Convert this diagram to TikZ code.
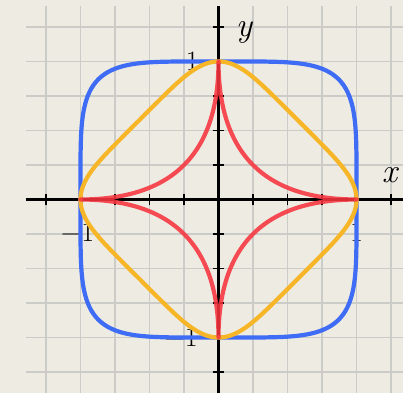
\documentclass[tikz,border=0pt]{standalone}
\usepackage{fontspec}
\definecolor{bg}{RGB}{238,235,227}
\definecolor{gridc}{RGB}{203,203,200}
\definecolor{cblue}{RGB}{62,108,244}
\definecolor{corange}{RGB}{246,182,40}
\definecolor{cred}{RGB}{246,52,62}
\tikzset{
  gridline/.style={draw=gridc, line width=1.3pt},
  axisline/.style={draw=black, line width=2.8pt},
  tickmark/.style={draw=black, line width=1.2pt},
  curve/.style={line width=4.2pt, line join=round},
  numlabel/.style={font=\fontsize{28}{28}\selectfont, inner sep=0pt},
  varlabel/.style={font=\fontsize{34}{34}\selectfont\itshape, inner sep=0pt},
}
\newcommand\lamepath[1]{%
  (1,0)
  -- plot[domain=0.2:89.8, samples=120, smooth] ({pow(cos(\x),#1)},{pow(sin(\x),#1)})
  -- (0,1)
  -- plot[domain=0.2:89.8, samples=120, smooth] ({-pow(sin(\x),#1)},{pow(cos(\x),#1)})
  -- (-1,0)
  -- plot[domain=0.2:89.8, samples=120, smooth] ({-pow(cos(\x),#1)},{-pow(sin(\x),#1)})
  -- (0,-1)
  -- plot[domain=0.2:89.8, samples=120, smooth] ({pow(sin(\x),#1)},{-pow(cos(\x),#1)})
  -- cycle}
\begin{document}
\begin{tikzpicture}[x=1pt,y=1pt]
\path[use as bounding box, fill=bg] (0,0) rectangle (403,393);
\begin{scope}[shift={(218.5pt,193.5pt)}, x=138pt, y=138pt]
  % grid
  \foreach \k in {-5,...,5} {
    \draw[gridline] (\k*0.25,-1.40) -- (\k*0.25,1.40);
    \draw[gridline] (-1.395,\k*0.25) -- (1.34,\k*0.25);
  }
  % labels
  \node[varlabel] (ly) at (0.185,1.21) {y};
  \node[varlabel] (lx) at (1.239,0.178) {x};
  \node[numlabel] (ltop) at (-0.19,1.0) {1};
  \node[numlabel] (lright) at (1.0,-0.24) {1};
  \node[numlabel] (lleft) at (-1.02,-0.235) {−1};
  \node[numlabel] (lbottom) at (-0.27,-1.0) {−1};
  % axes
  \coordinate (xl) at (-1.395,0);
  \coordinate (xr) at (1.34,0);
  \coordinate (yb) at (0,-1.40);
  \coordinate (yt) at (0,1.40);
  \draw[axisline] (xl) -- (xr);
  \draw[axisline] (yb) -- (yt);
  \foreach \k in {-5,...,-1,1,2,...,5} {
    \draw[tickmark] (\k*0.25,-0.042) -- (\k*0.25,0.042);
    \draw[tickmark] (-0.042,\k*0.25) -- (0.042,\k*0.25);
  }
  % curves
  \draw[curve, draw=cblue] \lamepath{0.4};
  \begin{scope}[rotate=45, scale=0.8123]
    \draw[curve, draw=corange] \lamepath{0.4};
  \end{scope}
  \draw[curve, draw=cred, draw opacity=0.88] \lamepath{4};
\end{scope}
\end{tikzpicture}
\end{document}
